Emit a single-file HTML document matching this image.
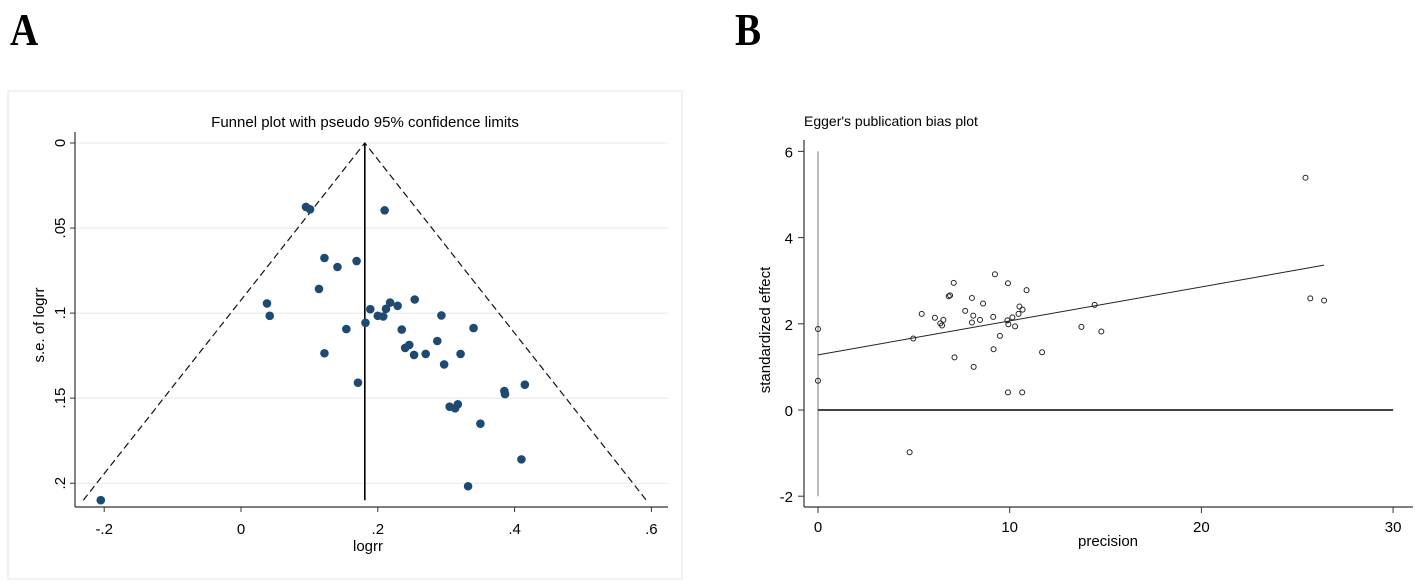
<!DOCTYPE html>
<html><head><meta charset="utf-8"><style>
body{margin:0;background:#fff;}
svg{display:block;font-family:"Liberation Sans",Arial,sans-serif;}
</style></head><body>
<svg id="fig" width="1417" height="588" viewBox="0 0 1417 588" xmlns="http://www.w3.org/2000/svg">
<text x="10" y="45" font-family="Liberation Serif" font-weight="bold" font-size="46" transform="translate(10,45) scale(0.85,1) translate(-10,-45)">A</text>
<text x="735" y="45" font-family="Liberation Serif" font-weight="bold" font-size="46" transform="translate(735,45) scale(0.85,1) translate(-735,-45)">B</text>
<rect x="8" y="91" width="674" height="488" fill="none" stroke="#eeeeee" stroke-width="1.5"/>
<g id="pa"></g>
<g id="pb"></g>
</svg>
<script>
// Panel A data
const logrr = [0.095,0.101,0.210,0.122,0.169,0.141,0.114,0.038,0.042,0.189,0.200,0.208,0.212,0.218,0.229,0.254,0.182,0.154,0.235,0.293,0.340,0.287,0.240,0.246,0.253,0.270,0.321,0.297,0.122,0.171,0.415,0.385,0.386,0.305,0.313,0.317,0.350,0.410,0.332,-0.205];
const seLogrr = [0.0376,0.039,0.0396,0.0676,0.0694,0.0729,0.0858,0.0943,0.1016,0.0977,0.1016,0.102,0.0975,0.0938,0.0957,0.092,0.1057,0.1094,0.1097,0.1014,0.1088,0.1164,0.1205,0.1187,0.1246,0.124,0.124,0.1302,0.1236,0.1409,0.1421,0.1458,0.1476,0.155,0.156,0.1536,0.165,0.186,0.2018,0.210];
const pooled = 0.181;
const seMax = 0.21;
const aXTicks = [-0.2,0,0.2,0.4,0.6];
const aXLabels = ["-.2","0",".2",".4",".6"];
const aYTicks = [0,0.05,0.1,0.15,0.2];
const aYLabels = ["0",".05",".1",".15",".2"];
// Panel B data
const precision = [0,0,4.97,4.78,5.41,6.1,6.38,6.47,6.54,6.82,6.89,7.08,7.12,7.68,8.03,8.03,8.1,8.12,8.45,8.61,9.14,9.16,9.23,9.49,9.88,9.91,9.93,9.91,10.14,10.28,10.46,10.51,10.67,10.65,10.88,11.69,13.74,14.43,14.78,25.43,25.68,26.40];
const stdEffect = [1.88,0.68,1.66,-0.98,2.23,2.14,2.01,1.96,2.09,2.64,2.66,2.95,1.22,2.30,2.60,2.03,2.19,1.00,2.09,2.47,2.16,1.41,3.15,1.72,2.08,2.94,1.99,0.41,2.15,1.94,2.23,2.40,2.33,0.41,2.78,1.34,1.93,2.44,1.82,5.39,2.59,2.54];
const eggerIntercept = 1.28;
const eggerSlope = 0.0788;
const bXTicks = [0,10,20,30];
const bYTicks = [-2,0,2,4,6];

const NS="http://www.w3.org/2000/svg";
function mk(parent,tag,attrs,text){const e=document.createElementNS(NS,tag);for(const k in attrs)e.setAttribute(k,attrs[k]);if(text!==undefined)e.textContent=text;parent.appendChild(e);return e;}

// Panel A
const pa=document.getElementById('pa');
const ax=v=>241+v*684;
const ay=v=>143+v*1701;
aYTicks.forEach((t,i)=>{
  const g=mk(pa,'line',{x1:75,x2:668,y1:ay(t),y2:ay(t),stroke:'#e8e8e8','stroke-width':1});
  
  
  const tk=mk(pa,'line',{x1:70,x2:75,y1:ay(t),y2:ay(t),stroke:'#333'});
  
  
  const l=mk(pa,'text',{x:0,y:0,'font-size':15,'text-anchor':'middle',transform:`translate(65,${ay(t)}) rotate(-90)`},aYLabels[i]);
  
  
});
aXTicks.forEach((t,i)=>{
  const tk=mk(pa,'line',{x1:ax(t),x2:ax(t),y1:507,y2:512,stroke:'#333'});
  
  
  const l=mk(pa,'text',{x:ax(t),y:534,'font-size':15,'text-anchor':'middle'},aXLabels[i]);
  
  
});
let e;
e=mk(pa,'line',{x1:75,x2:75,y1:132,y2:507,stroke:'#333','stroke-width':1.2});


e=mk(pa,'line',{x1:75,x2:668,y1:507,y2:507,stroke:'#333','stroke-width':1.2});


const lo=pooled-1.96*seMax, hi=pooled+1.96*seMax;
e=mk(pa,'polyline',{points:`${ax(lo)},${ay(seMax)} ${ax(pooled)},${ay(0)} ${ax(hi)},${ay(seMax)}`,fill:'none',stroke:'#111','stroke-width':1.2,'stroke-dasharray':'7,4'});


e=mk(pa,'line',{x1:ax(pooled),x2:ax(pooled),y1:ay(0),y2:ay(seMax),stroke:'#000','stroke-width':1.6});


logrr.forEach((v,i)=>{
  const c=mk(pa,'circle',{cx:ax(v),cy:ay(seLogrr[i]),r:4.3,fill:'#1e4a72'});
  
  
});
e=mk(pa,'text',{x:365,y:127,'font-size':15,'text-anchor':'middle'},'Funnel plot with pseudo 95% confidence limits');


e=mk(pa,'text',{x:0,y:0,'font-size':15,'text-anchor':'middle',transform:'translate(44,325) rotate(-90)'},'s.e. of logrr');


e=mk(pa,'text',{x:368,y:551,'font-size':15,'text-anchor':'middle'},'logrr');



// Panel B
const pb=document.getElementById('pb');
const bx=v=>818+v*19.17;
const by=v=>410-v*43.1;
bYTicks.forEach(t=>{
  const tk=mk(pb,'line',{x1:798,x2:804,y1:by(t),y2:by(t),stroke:'#333'});
  
  
  const l=mk(pb,'text',{x:793,y:by(t)+6,'font-size':15,'text-anchor':'end'},String(t));
  
  
});
bXTicks.forEach(t=>{
  const tk=mk(pb,'line',{x1:bx(t),x2:bx(t),y1:507,y2:513,stroke:'#333'});
  
  
  const l=mk(pb,'text',{x:bx(t),y:532,'font-size':15,'text-anchor':'middle'},String(t));
  
  
});
e=mk(pb,'line',{x1:804,x2:804,y1:140,y2:507,stroke:'#333','stroke-width':1.2});


e=mk(pb,'line',{x1:804,x2:1413,y1:507,y2:507,stroke:'#333','stroke-width':1.2});


e=mk(pb,'line',{x1:bx(0),x2:bx(0),y1:by(6),y2:by(-2),stroke:'#777','stroke-width':1});


e=mk(pb,'line',{x1:bx(0),x2:bx(30),y1:by(0),y2:by(0),stroke:'#444','stroke-width':2});


const xmax=Math.max(...precision);
e=mk(pb,'line',{x1:bx(0),x2:bx(xmax),y1:by(eggerIntercept),y2:by(eggerIntercept+eggerSlope*xmax),stroke:'#222','stroke-width':1});


precision.forEach((v,i)=>{
  const c=mk(pb,'circle',{cx:bx(v),cy:by(stdEffect[i]),r:2.5,fill:'none',stroke:'#222','stroke-width':1});
  
  
});
e=mk(pb,'text',{x:804,y:126,'font-size':14},"Egger's publication bias plot");


e=mk(pb,'text',{x:0,y:0,'font-size':15,'text-anchor':'middle',transform:'translate(770,330) rotate(-90)'},'standardized effect');


e=mk(pb,'text',{x:1108,y:546,'font-size':15,'text-anchor':'middle'},'precision');


</script>
</body></html>
